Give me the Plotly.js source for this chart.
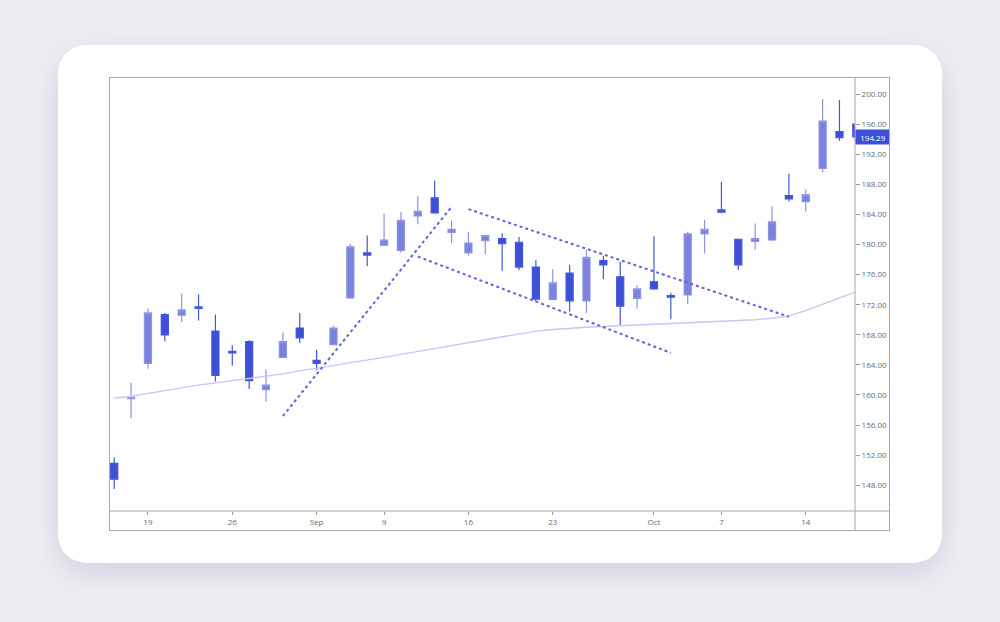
<!DOCTYPE html>
<html>
<head>
<meta charset="utf-8">
<script src="https://cdn.plot.ly/plotly-3.0.1.min.js"></script>
<style>
  html, body { margin: 0; padding: 0; }
  body { width: 1000px; height: 622px; background: #ededf1; position: relative; overflow: hidden; font-family: "Open Sans", sans-serif; }
  #card { position: absolute; left: 58px; top: 45px; width: 884px; height: 518px; background: #ffffff; border-radius: 28px;
          box-shadow: 0 10px 28px rgba(140, 140, 185, 0.28); }
  #frame { position: absolute; left: 109px; top: 77px; width: 781px; height: 454px; box-sizing: border-box; border: 1px solid #a8a8ac; background: #fff; }
  #chart { position: absolute; left: 0; top: 0; width: 779px; height: 452px; }
</style>
</head>
<body>
<div id="card"></div>
<div id="frame"><div id="chart"></div></div>
<script>
// Daily sessions, Aug 15 – Oct 17 2019
const dates = ['2019-08-15','2019-08-16','2019-08-19','2019-08-20','2019-08-21','2019-08-22','2019-08-23',
  '2019-08-26','2019-08-27','2019-08-28','2019-08-29','2019-08-30','2019-09-03','2019-09-04','2019-09-05',
  '2019-09-06','2019-09-09','2019-09-10','2019-09-11','2019-09-12','2019-09-13','2019-09-16','2019-09-17',
  '2019-09-18','2019-09-19','2019-09-20','2019-09-23','2019-09-24','2019-09-25','2019-09-26','2019-09-27',
  '2019-09-30','2019-10-01','2019-10-02','2019-10-03','2019-10-04','2019-10-07','2019-10-08','2019-10-09',
  '2019-10-10','2019-10-11','2019-10-14','2019-10-15','2019-10-16','2019-10-17'];

const opens  = [150.9,159.5,164.2,170.7,170.6,171.7,168.5,165.8,167.1,160.7,165.0,168.9,164.6,166.7,172.9,
  178.9,179.9,179.2,183.8,186.2,181.6,178.9,180.5,180.8,180.3,177.0,172.7,176.2,172.5,177.85,175.7,
  172.85,175.05,173.2,173.3,181.4,184.6,180.7,180.4,180.6,186.5,185.7,190.1,195.0,196.0];
const highs  = [151.7,161.6,171.5,170.9,173.5,173.4,170.7,166.6,167.3,163.4,168.3,170.9,166.0,169.2,180.1,
  181.2,184.1,184.3,186.4,188.5,183.2,181.7,181.3,181.5,181.0,177.9,176.7,177.3,179.3,178.5,177.7,
  174.6,181.1,173.6,181.7,183.25,188.35,180.8,182.8,185.1,189.4,187.3,199.3,199.2,196.2];
const lows   = [147.5,156.9,163.5,167.1,169.7,169.9,161.8,163.9,160.8,159.1,164.9,166.9,163.3,166.6,172.8,
  177.1,179.8,178.9,182.7,184.1,180.2,178.5,178.7,176.5,176.6,172.4,172.6,171.1,170.9,175.4,169.3,
  171.5,173.95,170.05,172.1,178.8,184.2,176.6,179.3,180.45,185.7,184.4,189.6,193.8,194.0];
const closes = [148.8,159.7,170.9,168.0,171.3,171.5,162.6,165.6,161.9,161.3,167.1,167.6,164.2,168.9,179.7,
  178.6,180.6,183.2,184.4,184.2,182.0,180.2,181.2,180.1,177.0,172.75,174.9,172.5,178.3,177.3,171.8,
  174.1,174.1,173.0,181.4,182.0,184.3,177.3,180.8,183.0,186.05,186.6,196.4,194.2,194.29];

// Moving average
const maValues = [159.6,159.8,160.2,160.6,161.0,161.3,161.6,161.9,162.2,162.5,162.8,163.2,163.5,163.9,164.3,
  164.6,165.0,165.4,165.8,166.2,166.6,167.0,167.4,167.8,168.2,168.5,168.7,168.9,169.0,169.1,169.2,
  169.3,169.4,169.5,169.6,169.7,169.8,169.9,170.0,170.2,170.5,171.2,172.1,172.9,173.7];

// Drawn trend lines
const trendUpDates = ['2019-08-29','2019-09-13'];
const trendUpValues = [157.2, 185.0];
const channelTopDates = ['2019-09-16','2019-10-11'];
const channelTopValues = [184.7, 170.4];
const channelBotDates = ['2019-09-11','2019-10-02'];
const channelBotValues = [178.4, 165.6];

// Axis labels
const yTickValues = [148,152,156,160,164,168,172,176,180,184,188,192,196,200];
const xTickDates = ['2019-08-19','2019-08-26','2019-09-03','2019-09-09','2019-09-16','2019-09-23','2019-10-01','2019-10-07','2019-10-14'];
const xTickLabels = ['19','26','Sep','9','16','23','Oct','7','14'];

const lastClose = closes[closes.length - 1];

const dotStyle = {color: '#5f65d9', width: 2, dash: 'dot'};

const traces = [
  {
    type: 'scatter', mode: 'lines', x: dates, y: maValues,
    line: {color: '#c8c5f4', width: 1.3}, hoverinfo: 'skip'
  },
  {
    type: 'candlestick', x: dates, open: opens, high: highs, low: lows, close: closes,
    increasing: {line: {color: '#8d93e2', width: 1.2}, fillcolor: '#7b82dc'},
    decreasing: {line: {color: '#4556d8', width: 1.2}, fillcolor: '#3c4fd6'},
    whiskerwidth: 0, hoverinfo: 'skip'
  },
  {type: 'scatter', mode: 'lines', x: trendUpDates, y: trendUpValues, line: dotStyle, hoverinfo: 'skip'},
  {type: 'scatter', mode: 'lines', x: channelTopDates, y: channelTopValues, line: dotStyle, hoverinfo: 'skip'},
  {type: 'scatter', mode: 'lines', x: channelBotDates, y: channelBotValues, line: dotStyle, hoverinfo: 'skip'}
];

const plotW = 745, plotH = 433, marginR = 34, marginB = 19;

const layout = {
  width: 779, height: 452,
  margin: {l: 0, r: marginR, t: 0, b: marginB, pad: 0},
  paper_bgcolor: '#ffffff', plot_bgcolor: '#ffffff',
  showlegend: false, hovermode: false, boxgap: 0.4,
  font: {family: '"Open Sans", "Noto Sans", sans-serif', size: 8, color: '#6a6a70'},
  xaxis: {
    type: 'category', range: [-0.25, 43.92], rangeslider: {visible: false},
    showgrid: false, zeroline: false, showline: false,
    tickmode: 'array', tickvals: xTickDates, ticktext: xTickLabels,
    ticks: 'outside', ticklen: 3, tickcolor: '#999', tickfont: {size: 8, color: '#6a6a70'}
  },
  yaxis: {
    side: 'right', range: [144.58, 202.13], showgrid: false, zeroline: false, showline: false,
    tickmode: 'array', tickvals: yTickValues, tickformat: '.2f',
    ticks: 'outside', ticklen: 4, tickcolor: '#999', tickfont: {size: 8, color: '#6a6a70'}
  },
  shapes: [
    {type: 'line', xref: 'paper', yref: 'paper', x0: 0, x1: 1 + marginR / plotW, y0: 0, y1: 0,
     line: {color: '#a8a8ac', width: 1}},
    {type: 'line', xref: 'paper', yref: 'paper', x0: 1, x1: 1, y0: -marginB / plotH, y1: 1,
     line: {color: '#a8a8ac', width: 1}}
  ],
  annotations: [
    {xref: 'paper', yref: 'y', x: 1, y: lastClose, xanchor: 'left', yanchor: 'middle', xshift: 0,
     text: lastClose.toFixed(2), showarrow: false, bgcolor: '#3c4fd6', borderpad: 1.5, width: 31,
     font: {size: 8, color: '#ffffff'}}
  ]
};

Plotly.newPlot('chart', traces, layout, {displayModeBar: false, staticPlot: true});
</script>
</body>
</html>
